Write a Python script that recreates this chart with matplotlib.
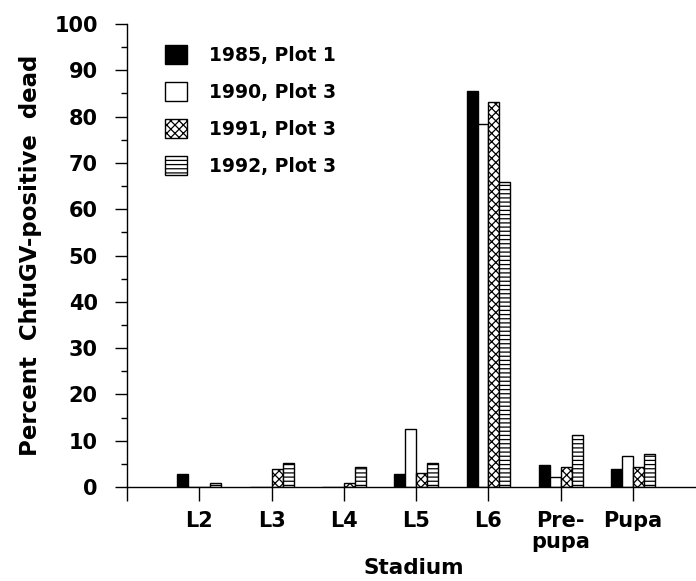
import numpy as np
import matplotlib
matplotlib.use('Agg')
import matplotlib.pyplot as plt

plt.rcParams['font.family'] = 'DejaVu Sans'
plt.rcParams['font.weight'] = 'bold'
plt.rcParams['hatch.linewidth'] = 0.9

# data
stages = ['L2', 'L3', 'L4', 'L5', 'L6', 'Pre-\npupa', 'Pupa']
series = ['1985, Plot 1', '1990, Plot 3', '1991, Plot 3', '1992, Plot 3']
y1985 = [2.9, 0, 0, 2.9, 85.6, 4.7, 3.8]
y1990 = [0, 0, 0, 12.5, 78.5, 2.2, 6.8]
y1991 = [0, 3.9, 0.9, 3.0, 83.2, 4.4, 4.4]
y1992 = [0.9, 5.2, 4.4, 5.2, 65.9, 11.2, 7.2]

fig = plt.figure(figsize=(6.96, 5.81), dpi=100)
ax = fig.add_axes([127/696, 1 - 487/581, 1 - 127/696, (487 - 24)/581])

x = np.arange(1, len(stages) + 1)
w = 0.152
styles = [dict(color='black', edgecolor='black'),
          dict(color='white', edgecolor='black'),
          dict(color='white', edgecolor='black', hatch='xxxx'),
          dict(color='white', edgecolor='black', hatch='----')]
handles = []
for i, (vals, st) in enumerate(zip([y1985, y1990, y1991, y1992], styles)):
    b = ax.bar(x + (i - 1.5) * w, vals, w, linewidth=1.0, label=series[i], **st)
    handles.append(b)

ax.set_xlim(0, (696 - 127) / 72.3)
ax.set_ylim(0, 100)
ax.spines['top'].set_visible(False)
ax.spines['right'].set_visible(False)
ax.spines['left'].set_linewidth(1.0)
ax.spines['bottom'].set_linewidth(1.0)

ax.set_xticks(np.arange(0, len(stages) + 1))
ax.set_xticklabels([''] + stages, fontsize=15, fontweight='bold', va='top',
                   linespacing=1.1)
ax.set_yticks(np.arange(0, 101, 10))
ax.set_yticks(np.arange(5, 100, 10), minor=True)
ax.tick_params(axis='y', which='major', length=9, width=1, pad=12, labelsize=15)
ax.tick_params(axis='y', which='minor', length=4, width=1)
ax.tick_params(axis='x', which='major', length=10, width=1, pad=7)

fig.text(31/696, 1 - 255/581, 'Percent  ChfuGV-positive  dead', rotation=90,
         ha='center', va='center', fontsize=16.5, fontweight='bold')
fig.text(414/696, 1 - 568/581, 'Stadium', ha='center', va='center',
         fontsize=15.5, fontweight='bold')

leg = ax.legend(handles=handles, loc='upper left',
                bbox_to_anchor=(165/696, 1 - 45/581), bbox_transform=fig.transFigure,
                frameon=False, fontsize=13.5, handlelength=1.15, handleheight=1.15,
                handletextpad=1.2, labelspacing=0.93, borderpad=0, borderaxespad=0)
for t in leg.get_texts():
    t.set_fontweight('bold')

fig.savefig('out.png', dpi=100)
